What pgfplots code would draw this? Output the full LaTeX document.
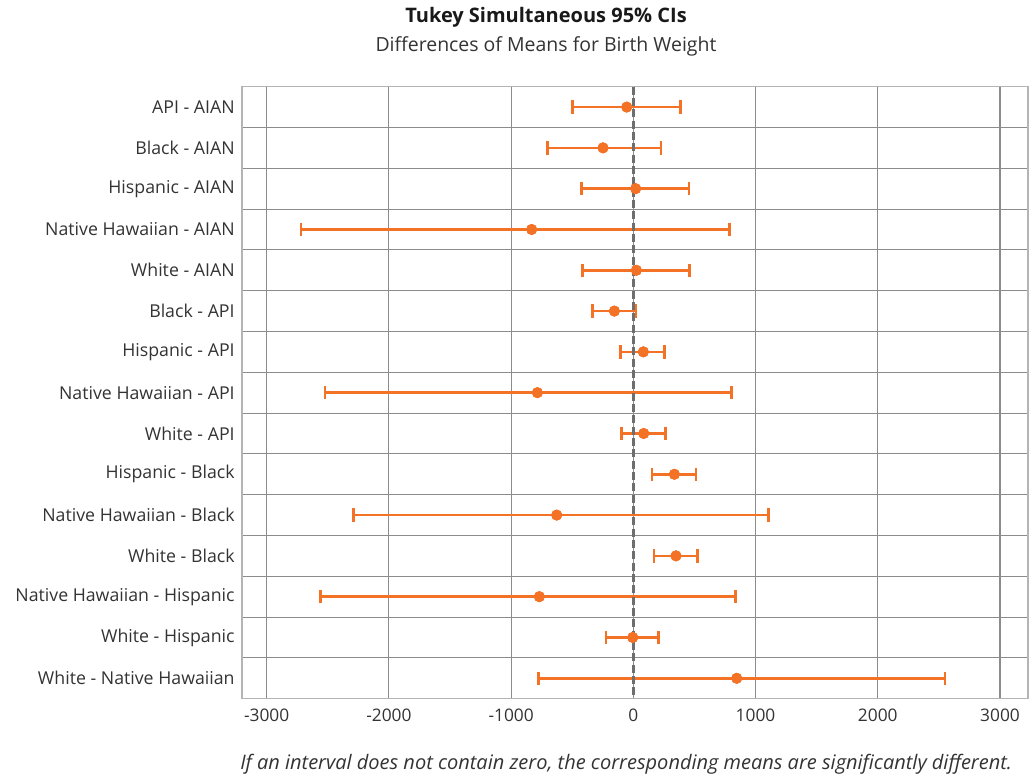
\documentclass[border=0pt]{standalone}
\usepackage{pgfplots}
\usepackage{pgfplotstable}
\pgfplotsset{compat=1.18}
\usepackage{fontspec}
\setmainfont{Open Sans}
\definecolor{barorange}{HTML}{F47226}
\definecolor{gridgray}{HTML}{8C8C8C}
\definecolor{framegray}{HTML}{B4B4B4}
\definecolor{txt}{HTML}{333333}
\definecolor{zerogray}{HTML}{6E6E6E}

\pgfplotstableread{
row mean em ep
1 -54 442 439
2 -248 456 475
3 19 441 437
4 -832 1887 1618
5 25 442 434
6 -155 180 177
7 82 185 175
8 -785 1738 1590
9 85 183 177
10 336 183 177
11 -627 1664 1732
12 349 180 175
13 -769 1789 1607
14 -5 218 213
15 846 1620 1704
}\tukeydata

\begin{document}
\begin{tikzpicture}
\begin{axis}[
  name=ax,
  at={(0,0)}, anchor=south west,
  scale only axis,
  width=589.3pt, height=459pt,
  xmin=-3202, xmax=3227,
  ymin=0.5, ymax=15.5,
  y dir=reverse,
  xtick={-3000,-2000,...,3000},
  ytick={1,...,15},
  yticklabels={API - AIAN, Black - AIAN, Hispanic - AIAN, Native Hawaiian - AIAN, White - AIAN, Black - API, Hispanic - API, Native Hawaiian - API, White - API, Hispanic - Black, Native Hawaiian - Black, White - Black, Native Hawaiian - Hispanic, White - Hispanic, White - Native Hawaiian},
  minor ytick={1.5,2.5,...,14.5},
  xmajorgrids, yminorgrids,
  major grid style={gridgray, line width=0.8pt},
  minor grid style={gridgray, line width=0.8pt},
  axis line style={framegray, line width=1.2pt},
  tick style={draw=none},
  minor tick style={draw=none},
  yticklabel style={font=\fontsize{13.3}{15}\selectfont, text=txt, xshift=-2pt},
  xticklabel style={font=\fontsize{13}{15}\selectfont, text=txt, yshift=-4pt},
  /pgf/number format/assume math mode=true,
  /pgf/number format/set thousands separator={},
  clip=false,
]
\addplot[
  only marks,
  mark=*,
  mark size=3.9pt,
  mark options={fill=barorange, draw=barorange},
  error bars/.cd,
    x dir=both, x explicit,
    error mark=|,
    error bar style={barorange, line width=2pt},
    error mark options={barorange, line width=2pt, mark size=5pt},
] table[x=mean, y=row, x error plus=ep, x error minus=em] {\tukeydata};
\addplot[zerogray, line width=2.3pt, dash pattern=on 6pt off 2.5pt] coordinates {(0,0.5) (0,15.5)};
\addplot[
  only marks,
  mark=*,
  mark size=3.9pt,
  mark options={fill=barorange, draw=barorange},
] table[x=mean, y=row] {\tukeydata};
\end{axis}
\node[font=\bfseries\fontsize{15}{17}\selectfont, text=black!90] at (228pt,511pt) {Tukey Simultaneous 95\% CIs};
\node[font=\fontsize{14.6}{17}\selectfont, text=txt] at (228pt,489.5pt) {Differences of Means for Birth Weight};
\node[font=\itshape\fontsize{15}{18}\selectfont, text=txt, anchor=west, inner sep=0pt] at (-1.5pt,-49pt) {If an interval does not contain zero, the corresponding means are significantly different.};
\pgfresetboundingbox
\path[use as bounding box] (-181.5pt,-60.2pt) rectangle (592.5pt,524pt);
\end{tikzpicture}
\end{document}
